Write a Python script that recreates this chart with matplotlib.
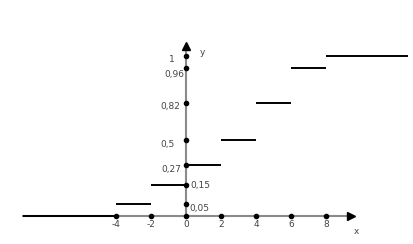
import numpy as np
import matplotlib.pyplot as plt

# step function F(x)
breaks = [-9.3, -4, -2, 0, 2, 4, 6, 8, 12.7]
levels = [0, 0.05, 0.15, 0.27, 0.5, 0.82, 0.96, 1]
level_labels = ["", "0,05", "0,15", "0,27", "0,5", "0,82", "0,96", "1"]
x_ticks = [-4, -2, 0, 2, 4, 6, 8]
x_tick_labels = ["-4", "-2", "0", "2", "4", "6", "8"]

# label offsets from the dot on the y axis, in pixels (layout only)
label_dx = [0, 13, 14.5, -15, -18.5, -16, -12, -14.3]
label_dy = [0, -5, -1, -4, -5, -4.3, -6, -3]

# the original drawing is not to scale on y: piecewise mapping value -> height
heights = np.array([0, 11.7, 31, 50.4, 75.7, 113, 147.4, 159.7])
lev = np.array(levels, float)
slope_lo = heights[1] / lev[1]
slope_hi = (heights[-1] - heights[-2]) / (lev[-1] - lev[-2])


def fwd(v):
    v = np.asarray(v, float)
    out = np.interp(v, lev, heights)
    out = np.where(v < 0, v * slope_lo, out)
    out = np.where(v > 1, heights[-1] + (v - 1) * slope_hi, out)
    return out


def inv(h):
    h = np.asarray(h, float)
    out = np.interp(h, heights, lev)
    out = np.where(h < 0, h / slope_lo, out)
    out = np.where(h > heights[-1], 1 + (h - heights[-1]) / slope_hi, out)
    return out


fig = plt.figure(figsize=(4.13, 2.44), dpi=100)
ax = fig.add_axes([0, 0, 1, 1])
ax.set_yscale("function", functions=(fwd, inv))
ax.set_xlim(-186 / 17.5, 227 / 17.5)
ax.set_ylim(float(inv(-28.3)), float(inv(215.7)))
ax.axis("off")

axis_col = "#8a8a8a"
txt_col = "#444444"

# axes
x_end = 9.45
y_end = float(inv(170))
ax.plot([-9.3, x_end - 0.3], [0, 0], color=axis_col, lw=1.5, zorder=1)
ax.plot([0, 0], [0, float(inv(166))], color=axis_col, lw=1.5, zorder=1)
ax.plot([x_end], [0], marker=">", color="black", ms=6, zorder=4)
ax.plot([0], [y_end], marker="^", color="black", ms=6, zorder=4)

# steps
ax.hlines(levels, breaks[:-1], breaks[1:], color="black", lw=1.4, zorder=3)

# dots
ax.plot(x_ticks, [0] * len(x_ticks), "o", color="black", ms=3, zorder=5)
ax.plot([0] * (len(levels) - 1), levels[1:], "o", color="black", ms=3, zorder=5)

fs = 6.5
for xv, lab in zip(x_ticks, x_tick_labels):
    ax.text(xv, float(inv(-8.5)), lab, ha="center", va="center", fontsize=fs, color=txt_col)

for v, lab, dx, dy in zip(levels, level_labels, label_dx, label_dy):
    if not lab:
        continue
    ax.annotate(lab, xy=(0, v), xytext=(dx, dy), textcoords="offset pixels",
                ha="center", va="center", fontsize=fs, color=txt_col)

ax.text(0.95, float(inv(163)), "y", ha="center", va="center", fontsize=fs, color=txt_col)
ax.text(9.75, float(inv(-15.5)), "x", ha="center", va="center", fontsize=fs, color=txt_col)

fig.savefig("out.png", dpi=100)
